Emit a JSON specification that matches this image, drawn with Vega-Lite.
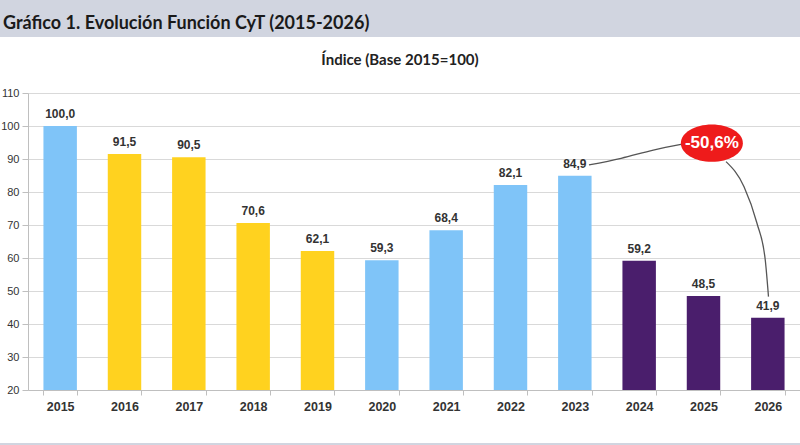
{
  "$schema": "https://vega.github.io/schema/vega-lite/v6.json",
  "padding": 0,
  "background": "white",
  "config": {
    "locale": {"number": {"decimal": ",", "thousands": ".", "grouping": [3], "currency": ["$", ""]}},
    "view": {"stroke": null}
  },
  "spacing": 16,
  "vconcat": [
    {
      "width": 800,
      "height": 37,
      "view": {"fill": "#D1D5E0", "stroke": null},
      "data": {"values": [{"titulo": "Gráfico 1. Evolución Función CyT (2015-2026)"}]},
      "mark": {"type": "text", "align": "left", "baseline": "middle", "font": "Lato", "fontSize": 18, "fontWeight": "bold", "color": "#1a1a1a", "dx": 3, "dy": 5},
      "encoding": {
        "x": {"datum": 0, "type": "quantitative", "scale": {"domain": [0, 1]}, "axis": null},
        "text": {"field": "titulo"}
      }
    },
    {
      "spacing": 27,
      "vconcat": [
        {
          "width": 800,
          "height": 297,
          "title": {"text": "Índice (Base 2015=100)", "font": "Lato", "fontSize": 15, "fontWeight": "bold", "color": "#222222", "offset": 19, "anchor": "middle"},
          "layer": [
            {
              "data": {"name": "barras"},
              "mark": {"type": "bar"},
              "encoding": {
                "x": {
                  "field": "anio", "type": "ordinal",
                  "scale": {"paddingInner": 0.48, "paddingOuter": 0.24, "range": [28, 800]},
                  "axis": {"title": null, "labelAngle": 0, "labelFont": "Liberation Sans Narrow, Liberation Sans", "labelFontSize": 12.5, "labelFontWeight": "bold", "labelColor": "#333333", "labelPadding": 5, "tickBand": "extent", "tickColor": "#BFBFBF", "tickSize": 5, "domainColor": "#BFBFBF", "grid": false}
                },
                "y": {
                  "field": "valor", "type": "quantitative",
                  "scale": {"domain": [20, 110], "nice": false, "zero": false},
                  "axis": {"title": null, "offset": -28, "values": [20, 30, 40, 50, 60, 70, 80, 90, 100, 110], "labelFont": "Liberation Sans", "labelFontSize": 11, "labelColor": "#333333", "labelPadding": 3, "tickColor": "#BFBFBF", "tickSize": 6, "domainColor": "#BFBFBF", "grid": true, "gridColor": "#D9D9D9", "gridWidth": 1}
                },
                "y2": {"datum": 20},
                "color": {"field": "grupo", "type": "nominal", "scale": {"domain": ["FpV", "Cambiemos", "FdT", "LLA"], "range": ["#7FC4F8", "#FFD21F", "#7FC4F8", "#4A1E6C"]}, "legend": null}
              }
            },
            {
              "data": {"name": "barras"},
              "mark": {"type": "text", "baseline": "bottom", "dy": -5, "font": "Liberation Sans", "fontSize": 12, "fontWeight": "bold", "color": "#333333"},
              "encoding": {
                "x": {"field": "anio", "type": "ordinal", "scale": {"paddingInner": 0.48, "paddingOuter": 0.24, "range": [28, 800]}, "axis": null},
                "y": {
                  "field": "valor", "type": "quantitative",
                  "scale": {"domain": [20, 110], "nice": false, "zero": false},
                  "axis": {"title": null, "offset": -28, "values": [20, 30, 40, 50, 60, 70, 80, 90, 100, 110], "labelFont": "Liberation Sans", "labelFontSize": 11, "labelColor": "#333333", "labelPadding": 3, "tickColor": "#BFBFBF", "tickSize": 6, "domainColor": "#BFBFBF", "grid": true, "gridColor": "#D9D9D9", "gridWidth": 1}
                },
                "text": {"field": "valor", "type": "quantitative", "format": ".1f"}
              }
            },
            {
              "data": {"values": [
                {"curva": "a", "orden": 1, "x": 2023.22, "y": 88.2},
                {"curva": "a", "orden": 2, "x": 2023.72, "y": 90.2},
                {"curva": "a", "orden": 3, "x": 2024.22, "y": 92.7},
                {"curva": "a", "orden": 4, "x": 2024.67, "y": 94.5},
                {"curva": "b", "orden": 1, "x": 2025.35, "y": 89.2},
                {"curva": "b", "orden": 2, "x": 2025.63, "y": 81.6},
                {"curva": "b", "orden": 3, "x": 2025.83, "y": 70.6},
                {"curva": "b", "orden": 4, "x": 2025.96, "y": 59.4},
                {"curva": "b", "orden": 5, "x": 2026.01, "y": 48.3}
              ]},
              "mark": {"type": "line", "interpolate": "monotone", "color": "#555555", "strokeWidth": 1.3},
              "encoding": {
                "x": {"field": "x", "type": "quantitative", "scale": {"domain": [2014.5, 2026.5], "range": [28, 800], "nice": false, "zero": false}, "axis": null},
                "y": {
                  "field": "y", "type": "quantitative",
                  "scale": {"domain": [20, 110], "nice": false, "zero": false},
                  "axis": {"title": null, "offset": -28, "values": [20, 30, 40, 50, 60, 70, 80, 90, 100, 110], "labelFont": "Liberation Sans", "labelFontSize": 11, "labelColor": "#333333", "labelPadding": 3, "tickColor": "#BFBFBF", "tickSize": 6, "domainColor": "#BFBFBF", "grid": true, "gridColor": "#D9D9D9", "gridWidth": 1}
                },
                "detail": {"field": "curva"},
                "order": {"field": "orden"}
              }
            },
            {
              "data": {"name": "globo"},
              "mark": {"type": "point", "shape": "M -1 0 A 1 0.6 0 1 1 1 0 A 1 0.6 0 1 1 -1 0 Z", "size": 3844, "filled": true, "color": "#EE1B1B", "opacity": 1, "strokeWidth": 0},
              "encoding": {
                "x": {"field": "x", "type": "quantitative", "scale": {"domain": [2014.5, 2026.5], "range": [28, 800], "nice": false, "zero": false}, "axis": null},
                "y": {
                  "field": "y", "type": "quantitative",
                  "scale": {"domain": [20, 110], "nice": false, "zero": false},
                  "axis": {"title": null, "offset": -28, "values": [20, 30, 40, 50, 60, 70, 80, 90, 100, 110], "labelFont": "Liberation Sans", "labelFontSize": 11, "labelColor": "#333333", "labelPadding": 3, "tickColor": "#BFBFBF", "tickSize": 6, "domainColor": "#BFBFBF", "grid": true, "gridColor": "#D9D9D9", "gridWidth": 1}
                }
              }
            },
            {
              "data": {"name": "globo"},
              "mark": {"type": "text", "align": "center", "baseline": "middle", "font": "Liberation Sans", "fontSize": 17, "fontWeight": "bold", "color": "white"},
              "encoding": {
                "x": {"field": "x", "type": "quantitative", "scale": {"domain": [2014.5, 2026.5], "range": [28, 800], "nice": false, "zero": false}, "axis": null},
                "y": {
                  "field": "y", "type": "quantitative",
                  "scale": {"domain": [20, 110], "nice": false, "zero": false},
                  "axis": {"title": null, "offset": -28, "values": [20, 30, 40, 50, 60, 70, 80, 90, 100, 110], "labelFont": "Liberation Sans", "labelFontSize": 11, "labelColor": "#333333", "labelPadding": 3, "tickColor": "#BFBFBF", "tickSize": 6, "domainColor": "#BFBFBF", "grid": true, "gridColor": "#D9D9D9", "gridWidth": 1}
                },
                "text": {"field": "etiqueta"}
              }
            }
          ],
          "resolve": {"scale": {"x": "independent"}, "axis": {"x": "independent"}}
        },
        {
          "width": 800,
          "height": 6,
          "view": {"fill": "#D1D5E0", "stroke": null},
          "data": {"values": [{}]},
          "mark": {"type": "text", "text": ""},
          "encoding": {}
        }
      ]
    }
  ],
  "datasets": {
    "barras": [
      {"anio": "2015", "valor": 100.0, "grupo": "FpV"},
      {"anio": "2016", "valor": 91.5, "grupo": "Cambiemos"},
      {"anio": "2017", "valor": 90.5, "grupo": "Cambiemos"},
      {"anio": "2018", "valor": 70.6, "grupo": "Cambiemos"},
      {"anio": "2019", "valor": 62.1, "grupo": "Cambiemos"},
      {"anio": "2020", "valor": 59.3, "grupo": "FdT"},
      {"anio": "2021", "valor": 68.4, "grupo": "FdT"},
      {"anio": "2022", "valor": 82.1, "grupo": "FdT"},
      {"anio": "2023", "valor": 84.9, "grupo": "FdT"},
      {"anio": "2024", "valor": 59.2, "grupo": "LLA"},
      {"anio": "2025", "valor": 48.5, "grupo": "LLA"},
      {"anio": "2026", "valor": 41.9, "grupo": "LLA"}
    ],
    "globo": [
      {"x": 2025.13, "y": 94.8, "etiqueta": "-50,6%"}
    ]
  }
}
